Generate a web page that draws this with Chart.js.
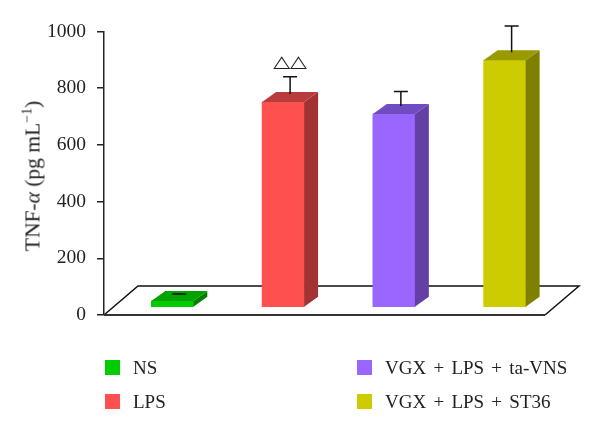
<!DOCTYPE html>
<html lang="en">
<head>
    <meta charset="UTF-8">
    <title>TNF-alpha</title>
    <script src="https://cdn.jsdelivr.net/npm/chart.js"></script>
    <style>
        body {
            margin: 0;
            background-color: #fff;
            font-family: "Liberation Serif", serif;
            color: #222;
        }
        #wrap {
            position: relative;
            width: 600px;
            height: 434px;
            overflow: hidden;
        }
        #ylabel {
            position: absolute;
            left: 33px;
            top: 176px;
            font-size: 21.5px;
            white-space: nowrap;
            transform: translate(-50%, -50%) rotate(-90deg);
        }
        #ylabel sup {
            font-size: 14px;
            line-height: 0;
        }
        .swatch {
            position: absolute;
            width: 15px;
            height: 15px;
        }
        .entry {
            position: absolute;
            font-size: 19px;
            word-spacing: 2.5px;
            line-height: 20px;
            white-space: nowrap;
        }
    </style>
</head>
<body>
    <div id="wrap">
        <canvas id="chart" width="600" height="434"></canvas>
        <div id="ylabel">TNF-<i>α</i> (pg mL<sup>−1</sup>)</div>
        <div id="legend"></div>
    </div>

    <script>
        const categories = ['NS', 'LPS', 'VGX + LPS + ta-VNS', 'VGX + LPS + ST36'];
        const barTops = [49, 751, 709, 899];
        const errorTops = [74, 840, 788, 1019];
        const floorValue = 29;
        const yTicks = [0, 200, 400, 600, 800, 1000];
        const frontColors = ['#00cc00', '#ff5050', '#9966ff', '#cccc00'];
        const topColors = ['#00a300', '#b83c3c', '#6f4cc0', '#999900'];
        const sideColors = ['#008000', '#a33232', '#6440a6', '#808000'];

        const DX = 14, DY = 10;

        function poly(ctx, pts, color) {
            ctx.fillStyle = color;
            ctx.beginPath();
            pts.forEach((p, i) => i ? ctx.lineTo(p[0], p[1]) : ctx.moveTo(p[0], p[1]));
            ctx.closePath();
            ctx.fill();
        }

        // floor parallelogram behind the bars
        const floorPlugin = {
            id: 'floor',
            beforeDatasetsDraw(chart) {
                const ctx = chart.ctx;
                const y0 = chart.scales.y.getPixelForValue(0);
                const left = chart.chartArea.left;
                ctx.save();
                ctx.strokeStyle = '#111';
                ctx.lineWidth = 1.5;
                ctx.beginPath();
                ctx.moveTo(left, y0);
                ctx.lineTo(left + 34, y0 - 29);
                ctx.lineTo(left + 475, y0 - 29);
                ctx.lineTo(left + 441, y0);
                ctx.stroke();
                ctx.strokeStyle = '#333';
                ctx.lineWidth = 2;
                ctx.beginPath();
                ctx.moveTo(left, y0);
                ctx.lineTo(left + 441, y0);
                ctx.stroke();
                ctx.restore();
            }
        };

        // side and top faces, error bars, significance marks
        const depthPlugin = {
            id: 'depth',
            afterDatasetsDraw(chart) {
                const ctx = chart.ctx;
                const y = chart.scales.y;
                ctx.save();
                chart.getDatasetMeta(0).data.forEach((bar, i) => {
                    const l = bar.x - bar.width / 2, r = bar.x + bar.width / 2;
                    poly(ctx, [[r, bar.y], [r + DX, bar.y - DY], [r + DX, bar.base - DY], [r, bar.base]], sideColors[i]);
                    poly(ctx, [[l, bar.y], [l + DX, bar.y - DY], [r + DX, bar.y - DY], [r, bar.y]], topColors[i]);

                    const ex = bar.x + DX / 2;
                    const top = y.getPixelForValue(errorTops[i]);
                    ctx.strokeStyle = '#111';
                    ctx.lineWidth = 1.5;
                    ctx.beginPath();
                    ctx.moveTo(ex, bar.y - 8);
                    ctx.lineTo(ex, top);
                    ctx.moveTo(ex - 7, top);
                    ctx.lineTo(ex + 7, top);
                    ctx.stroke();

                    if (categories[i] === 'LPS') {
                        ctx.save();
                        ctx.translate(ex, top - 10);
                        ctx.scale(1, 0.75);
                        ctx.fillStyle = '#222';
                        ctx.font = '22px "DejaVu Sans"';
                        ctx.textAlign = 'center';
                        ctx.textBaseline = 'alphabetic';
                        ctx.fillText('△△', 0, 0);
                        ctx.restore();
                    }
                });
                ctx.restore();
            }
        };

        new Chart(document.getElementById('chart').getContext('2d'), {
            type: 'bar',
            data: {
                datasets: [{
                    data: barTops.map((v, i) => ({ x: i, y: v })),
                    base: floorValue,
                    backgroundColor: frontColors,
                    barThickness: 42
                }]
            },
            options: {
                responsive: false,
                animation: false,
                layout: { padding: { left: 0, right: 40, top: 31.5, bottom: 119 } },
                plugins: { legend: { display: false }, tooltip: { enabled: false } },
                scales: {
                    x: { type: 'linear', display: false, offset: false, min: -0.617, max: 3.5 },
                    y: {
                        position: 'left',
                        min: 0,
                        max: 1000,
                        afterFit: scale => { scale.width = 104; },
                        afterBuildTicks: scale => { scale.ticks = yTicks.map(v => ({ value: v })); },
                        ticks: {
                            color: '#222',
                            padding: 11,
                            font: { family: '"Liberation Serif"', size: 19.5 },
                            callback: v => String(v)
                        },
                        grid: { drawOnChartArea: false, tickLength: 7, tickColor: '#222', lineWidth: 1.5 },
                        border: { color: '#222', width: 1.5 }
                    }
                }
            },
            plugins: [floorPlugin, depthPlugin]
        });

        // two column legend, filled down then across
        const legend = document.getElementById('legend');
        categories.forEach((name, i) => {
            const col = i < 2 ? 0 : 1;
            const row = i % 2;
            const sw = document.createElement('div');
            sw.className = 'swatch';
            sw.style.left = (105 + col * 252) + 'px';
            sw.style.top = (360 + row * 34) + 'px';
            sw.style.backgroundColor = frontColors[i];
            legend.appendChild(sw);
            const label = document.createElement('div');
            label.className = 'entry';
            label.style.left = (133 + col * 252) + 'px';
            label.style.top = (358 + row * 34) + 'px';
            label.textContent = name;
            legend.appendChild(label);
        });
    </script>
</body>
</html>
